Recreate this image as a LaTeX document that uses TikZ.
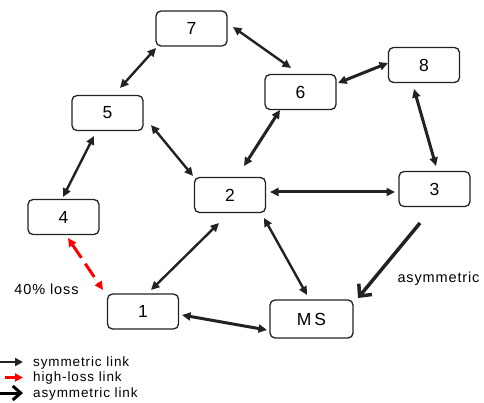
\documentclass[tikz,border=0pt]{standalone}
\usepackage{fontspec}
\setmainfont{Liberation Sans}
\newfontfamily\spaced[LetterSpace=6]{Liberation Sans}
\newfontfamily\spacedl[LetterSpace=6.5]{Liberation Sans}
\usetikzlibrary{arrows.meta,calc}
\definecolor{ink}{HTML}{222222}
\tikzset{
  box/.style={draw=ink, line width=1.3pt, rounded corners=5pt, minimum width=71pt, minimum height=35pt, inner sep=0pt, font=\fontsize{17.5}{17.5}\selectfont},
  sym/.style={draw=ink, line width=2.4pt, {Triangle[length=8.5pt,width=8pt]}-{Triangle[length=8.5pt,width=8pt]}},
  symthick/.style={sym, line width=3pt},
  lossy/.style={draw=red, line width=3pt, dash pattern=on 16pt off 7pt, {Triangle[length=8.5pt,width=8pt]}-{Triangle[length=8.5pt,width=8pt]}},
  asym/.style={draw=ink, line width=3.5pt, -{Straight Barb[length=9pt,width=17pt]}},
  lbl/.style={inner sep=0pt, font=\spaced\fontsize{14.5}{15}\selectfont},
  leg/.style={inner sep=0pt, anchor=base west, font=\spacedl\fontsize{13.5}{14}\selectfont}
}
\begin{document}
\begin{tikzpicture}[x=1pt,y=-1pt]
\useasboundingbox (0,0) rectangle (484,403);
\node[box] (n7) at (191.5,28.5) {7};
\node[box] (n5) at (107.5,113) {5};
\node[box] (n6) at (300.5,92) {6};
\node[box] (n8) at (424,65) {8};
\node[box] (n3) at (434.5,189) {3};
\node[box] (n2) at (230,195) {2};
\node[box] (n4) at (63.5,217) {4};
\node[box] (n1) at (143,311.5) {1};
\node[box, minimum width=83pt, minimum height=38pt] (ms) at (311.5,319) {M\,S};

\draw[sym] ($(n7)+(-35.5,19.5)$) -- ($(n5)+(12.5,-25)$);
\draw[sym] ($(n7)+(41.5,-1.5)$) -- ($(n6)+(-9.5,-24)$);
\draw[sym] ($(n5)+(43.5,12)$) -- ($(n2)+(-37,-19)$);
\draw[symthick] ($(n2)+(14,-29)$) -- ($(n6)+(-20.5,18)$);
\draw[symthick] ($(n6)+(37.5,-9)$) -- ($(n8)+(-36,-2)$);
\draw[symthick] ($(n8)+(-10,24)$) -- ($(n3)+(1.5,-23)$);
\draw[symthick] ($(n2)+(40,-3)$) -- ($(n3)+(-39.5,3)$);
\draw[sym] ($(n2)+(34,23)$) -- ($(ms)+(-4.5,-24)$);
\draw[symthick] ($(n1)+(39,3.5)$) -- ($(ms)+(-44.5,11)$);
\draw[sym] ($(n2)+(-11,28)$) -- ($(n1)+(8,-21.5)$);
\draw[sym] ($(n5)+(-13.5,23)$) -- ($(n4)+(-0.5,-20)$);
\draw[lossy] ($(n4)+(4.5,21)$) -- ($(n1)+(-40,-21.5)$);
\draw[asym] ($(n3)+(-14.5,34)$) -- ($(ms)+(46.5,-21)$);

\node[lbl] (loss) at (46.5,289) {40\% loss};
\node[lbl] (asl) at (438.5,279) {asymmetric};

\coordinate (l1a) at (0,362); \coordinate (l1b) at (23,362);
\coordinate (l2a) at (5,377.5); \coordinate (l2b) at (23,377.5);
\coordinate (l3a) at (0,393); \coordinate (l3b) at (23,393);
\draw[draw=ink, line width=2.6pt, -{Triangle[length=8pt,width=8pt]}] (l1a) -- (l1b);
\draw[draw=red, line width=2.6pt, -{Triangle[length=8pt,width=8pt]}] (l2a) -- (l2b);
\draw[draw=black, line width=3pt, -{Straight Barb[length=8pt,width=14pt]}] (l3a) -- (l3b);
\node[leg] (t1) at (33,366) {symmetric link};
\node[leg] (t2) at (33,381.5) {high-loss link};
\node[leg] (t3) at (33,397) {asymmetric link};
\end{tikzpicture}
\end{document}
